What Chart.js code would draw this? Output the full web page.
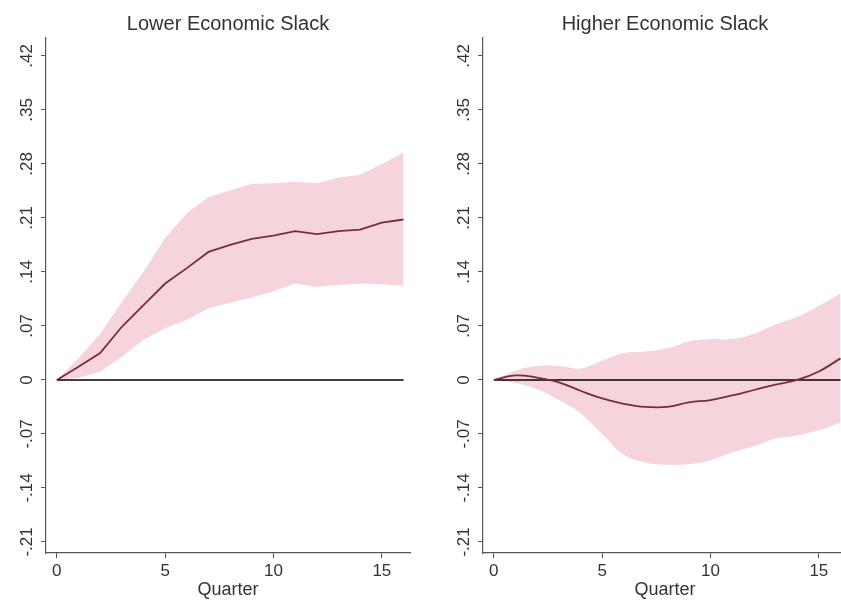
<!DOCTYPE html>
<html>
<head>
<meta charset="utf-8">
<script src="https://cdn.jsdelivr.net/npm/chart.js@4.4.1/dist/chart.umd.min.js"></script>
<style>
html, body { margin: 0; padding: 0; background: #fff; overflow: hidden; width: 841px; height: 604px; }
.panel { position: absolute; top: 0; width: 420px; height: 604px; }
</style>
</head>
<body>
<div class="panel" style="left:0px"><canvas id="lowerChart" width="420" height="604"></canvas></div>
<div class="panel" style="left:437px"><canvas id="higherChart" width="420" height="604"></canvas></div>
<script>
// quarters after the shock
var quarters = [0, 1, 2, 3, 4, 5, 6, 7, 8, 9, 10, 11, 12, 13, 14, 15, 16];

// lower economic slack: response and band
var lowerMean = [0, 0.017, 0.035, 0.069, 0.097, 0.125, 0.145, 0.166, 0.175, 0.183, 0.187, 0.193, 0.189, 0.193, 0.195, 0.204, 0.208];
var lowerUpper = [0, 0.028, 0.060, 0.101, 0.140, 0.184, 0.216, 0.237, 0.246, 0.254, 0.255, 0.257, 0.255, 0.262, 0.266, 0.280, 0.295];
var lowerLower = [0, 0.003, 0.011, 0.030, 0.052, 0.067, 0.078, 0.093, 0.100, 0.107, 0.115, 0.125, 0.121, 0.123, 0.125, 0.124, 0.122];

// higher economic slack: response and band
var higherMean = [0, 0.006, 0.003, -0.003, -0.014, -0.024, -0.031, -0.035, -0.035, -0.029, -0.026, -0.020, -0.013, -0.006, 0.000, 0.011, 0.028];
var higherUpper = [0, 0.012, 0.018, 0.018, 0.015, 0.025, 0.035, 0.037, 0.041, 0.050, 0.053, 0.053, 0.060, 0.072, 0.082, 0.096, 0.112];
var higherLower = [0, -0.004, -0.012, -0.026, -0.043, -0.070, -0.097, -0.107, -0.110, -0.109, -0.104, -0.094, -0.086, -0.076, -0.072, -0.065, -0.055];

var yTicks = [-0.21, -0.14, -0.07, 0, 0.07, 0.14, 0.21, 0.28, 0.35, 0.42];
var xTicks = [0, 5, 10, 15];
var zeroLevel = 0;

var fontFamily = '"Liberation Sans", Arial, Helvetica, sans-serif';
var bandColor = 'rgb(245, 212, 220)';
var lineColor = '#7a2c3a';
var axisColor = '#555';
var textColor = '#333';

function fmtTick(v) {
    if (Math.abs(v) < 1e-9) return '0';
    var s = Math.abs(v).toFixed(2).slice(1);
    return (v < 0 ? '-' : '') + s;
}

function toPoints(vals) {
    return quarters.map(function (q, i) { return { x: q, y: vals[i] }; });
}

// rotated y tick labels, placed from the y scale
var yLabelPlugin = {
    id: 'yLabels',
    afterDraw: function (chart) {
        var ctx = chart.ctx;
        var scale = chart.scales.y;
        ctx.save();
        ctx.fillStyle = textColor;
        ctx.font = '17px ' + fontFamily;
        ctx.textAlign = 'center';
        ctx.textBaseline = 'alphabetic';
        scale.ticks.forEach(function (t) {
            var py = scale.getPixelForValue(t.value);
            ctx.save();
            ctx.translate(scale.right - 14, py);
            ctx.rotate(-Math.PI / 2);
            ctx.fillText(fmtTick(t.value), 0, 0);
            ctx.restore();
        });
        ctx.restore();
    }
};

function makeChart(id, title, mean, upper, lower, tension) {
    var ctx = document.getElementById(id).getContext('2d');
    return new Chart(ctx, {
        type: 'line',
        data: {
            datasets: [{
                data: toPoints(lower),
                borderWidth: 0,
                borderColor: 'rgba(0,0,0,0)',
                pointRadius: 0,
                fill: false,
                tension: tension,
                order: 4
            }, {
                data: toPoints(upper),
                borderWidth: 0,
                borderColor: 'rgba(0,0,0,0)',
                backgroundColor: bandColor,
                pointRadius: 0,
                fill: '-1',
                tension: tension,
                order: 3
            }, {
                data: [{ x: quarters[0], y: zeroLevel }, { x: quarters[quarters.length - 1], y: zeroLevel }],
                borderWidth: 1.4,
                borderColor: '#000',
                pointRadius: 0,
                fill: false,
                order: 2
            }, {
                data: toPoints(mean),
                borderWidth: 1.8,
                borderColor: lineColor,
                pointRadius: 0,
                fill: false,
                tension: tension,
                order: 1
            }]
        },
        options: {
            responsive: false,
            animation: false,
            layout: { padding: { left: 0, right: 10, top: 0, bottom: 0 } },
            plugins: {
                legend: { display: false },
                tooltip: { enabled: false },
                title: {
                    display: true,
                    fullSize: false,
                    text: title,
                    color: textColor,
                    font: { family: fontFamily, size: 20, weight: 'normal' },
                    padding: { top: 12, bottom: 2 }
                }
            },
            scales: {
                x: {
                    type: 'linear',
                    min: -0.5,
                    max: 16.3,
                    afterBuildTicks: function (s) {
                        s.ticks = xTicks.map(function (v) { return { value: v }; });
                    },
                    afterFit: function (s) { s.height = 51; },
                    grid: { drawOnChartArea: false, drawTicks: true, tickLength: 5, color: axisColor },
                    border: { display: true, color: axisColor, width: 1.2 },
                    ticks: {
                        color: textColor,
                        padding: 3,
                        maxRotation: 0,
                        font: { family: fontFamily, size: 17 },
                        callback: function (v) { return String(v); }
                    },
                    title: {
                        display: true,
                        text: 'Quarter',
                        color: textColor,
                        font: { family: fontFamily, size: 18 },
                        padding: { top: 0, bottom: 3 }
                    }
                },
                y: {
                    min: -0.2243,
                    max: 0.4433,
                    afterBuildTicks: function (s) {
                        s.ticks = yTicks.map(function (v) { return { value: v }; });
                    },
                    afterFit: function (s) { s.width = 46; },
                    grid: { drawOnChartArea: false, drawTicks: true, tickLength: 5, color: axisColor },
                    border: { display: true, color: axisColor, width: 1.2 },
                    ticks: { display: false }
                }
            }
        },
        plugins: [yLabelPlugin]
    });
}

makeChart('lowerChart', 'Lower Economic Slack', lowerMean, lowerUpper, lowerLower, 0);
makeChart('higherChart', 'Higher Economic Slack', higherMean, higherUpper, higherLower, 0.4);
</script>
</body>
</html>
